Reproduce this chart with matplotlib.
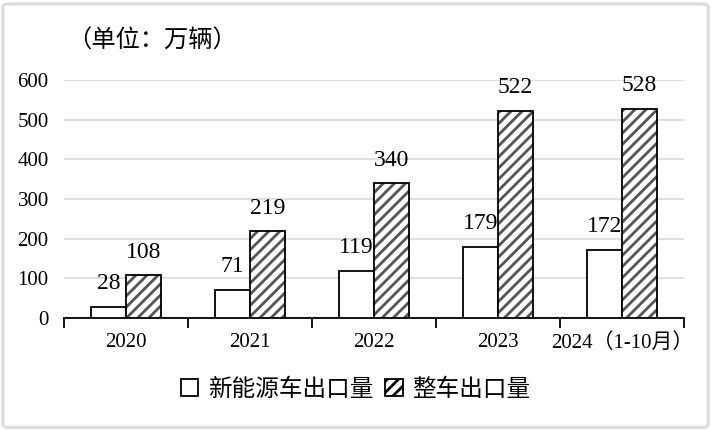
import numpy as np
import matplotlib.pyplot as plt
from matplotlib.patches import FancyBboxPatch, Patch

years = ['2020', '2021', '2022', '2023', '2024（1-10月）']
nev_export = [28, 71, 119, 179, 172]
total_export = [108, 219, 340, 522, 528]
legend_labels = ['新能源车出口量', '整车出口量']

serif = ['Liberation Serif', 'Noto Sans CJK SC']
cjk = ['Noto Sans CJK SC', 'Liberation Serif']
plt.rcParams['hatch.linewidth'] = 2.0
plt.rcParams['hatch.color'] = '#555555'

fig = plt.figure(figsize=(7.11, 4.30), dpi=100)
ax = fig.add_axes([0.09, 0.2605, 0.872, 0.5535])

x = np.arange(len(years))
w = 0.285
ax.bar(x - w / 2, nev_export, w, color='white', edgecolor='black', linewidth=1.3, zorder=3)
ax.bar(x + w / 2, total_export, w, color='white', hatch='///', edgecolor='#555555', linewidth=0, zorder=3)
ax.bar(x + w / 2, total_export, w, color='none', edgecolor='black', linewidth=1.3, zorder=4)

for xi, v in zip(x - w / 2, nev_export):
    ax.annotate(str(v), (xi, v), xytext=(0, 9), textcoords='offset points',
                ha='center', va='bottom', fontsize=17, family=serif)
for xi, v in zip(x + w / 2, total_export):
    ax.annotate(str(v), (xi, v), xytext=(0, 9), textcoords='offset points',
                ha='center', va='bottom', fontsize=17, family=serif)

ax.set_xlim(-0.5, len(years) - 0.5)
ax.set_ylim(0, 600)
ax.set_yticks(range(0, 601, 100))
ax.set_yticklabels([str(t) for t in range(0, 601, 100)], fontsize=15, family=serif)
ax.tick_params(axis='y', length=0, pad=11)
ax.grid(axis='y', color='#d9d9d9', linewidth=1.2, zorder=0)

ax.set_xticks(np.arange(len(years) + 1) - 0.5)
ax.set_xticklabels([])
ax.tick_params(axis='x', which='major', length=7, width=1.3, direction='out')
ax.set_xticks(x, minor=True)
ax.set_xticklabels(years, minor=True, fontsize=15, family=serif)
ax.tick_params(axis='x', which='minor', length=0, pad=11)

for s in ['left', 'right', 'top']:
    ax.spines[s].set_visible(False)
ax.spines['bottom'].set_linewidth(1.3)

fig.text(0.095, 0.905, '（单位：万辆）', fontsize=17.5, family=cjk, va='center', ha='left')

handles = [Patch(facecolor='white', edgecolor='black', linewidth=1.3),
           Patch(facecolor='white', edgecolor='black', hatch='///', linewidth=1.3)]
fig.legend(handles, legend_labels, loc='center', bbox_to_anchor=(0.5, 0.095), ncol=2,
           frameon=False, prop={'family': cjk, 'size': 17}, handlelength=0.75,
           handleheight=0.75, handletextpad=0.4, columnspacing=0.5)

border = FancyBboxPatch((0.004, 0.006), 0.992, 0.985, boxstyle='round,pad=0,rounding_size=0.008',
                        transform=fig.transFigure, facecolor='none', edgecolor='#dcdcdc', linewidth=2.2)
fig.patches.append(border)

fig.savefig('out.png', dpi=100)
